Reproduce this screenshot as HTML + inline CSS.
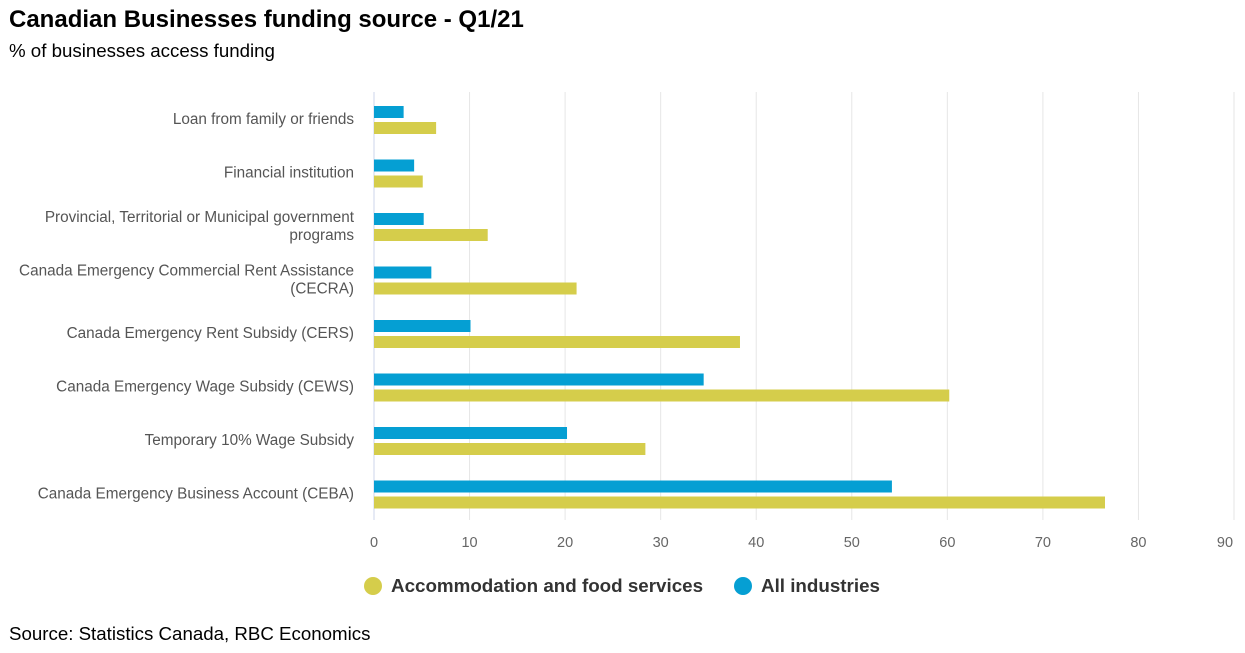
<!DOCTYPE html>
<html><head><meta charset="utf-8"><style>
body{margin:0;background:#fff;font-family:"Liberation Sans",sans-serif;}
#wrap{position:relative;width:1245px;height:653px;overflow:hidden;}
</style></head><body>
<div id="wrap">
<svg id="chart" width="1245" height="653">
<text x="9" y="27" font-size="24" font-weight="bold" fill="#000">Canadian Businesses funding source - Q1/21</text>
<text x="9" y="57" font-size="18.7" fill="#000">% of businesses access funding</text>
<text x="9" y="640" font-size="18.7" fill="#000">Source: Statistics Canada, RBC Economics</text>
<g id="grid"></g><g id="bars"></g><g id="labels"></g>
<g>
<g><circle cx="373" cy="586" r="9" fill="#d5cd4b"/><text x="391" y="592" font-size="18.8" font-weight="bold" fill="#333">Accommodation and food services</text></g>
<g><circle cx="743" cy="586" r="9" fill="#059fd3"/><text x="761" y="592" font-size="18.8" font-weight="bold" fill="#333">All industries</text></g>
</g>
</svg>
</div>
<script>
const categories=[["Loan from family or friends"],["Financial institution"],["Provincial, Territorial or Municipal government","programs"],["Canada Emergency Commercial Rent Assistance","(CECRA)"],["Canada Emergency Rent Subsidy (CERS)"],["Canada Emergency Wage Subsidy (CEWS)"],["Temporary 10% Wage Subsidy"],["Canada Emergency Business Account (CEBA)"]];
const allIndustries=[3.1,4.2,5.2,6.0,10.1,34.5,20.2,54.2];
const accommodation=[6.5,5.1,11.9,21.2,38.3,60.2,28.4,76.5];
const ticks=[0,10,20,30,40,50,60,70,80,90];
const NS="http://www.w3.org/2000/svg";
const x0=374,x1=1234,yTop=92,yBottom=520;
const xs=v=>x0+v/90*(x1-x0);
const rowH=(yBottom-yTop)/categories.length;
function mk(tag,attrs,parent){const e=document.createElementNS(NS,tag);for(const k in attrs)e.setAttribute(k,attrs[k]);document.getElementById(parent).appendChild(e);return e;}
ticks.forEach(t=>{
 const l=mk('line',{x1:xs(t),x2:xs(t),y1:yTop,y2:yBottom,stroke:t===0?'#ccd6eb':'#e6e6e6','stroke-width':1},'grid');
 
 
 const tx=mk('text',{x:t===90?xs(t)-9:xs(t),y:547,'text-anchor':'middle','font-size':14.5,fill:'#666'},'labels');
 tx.textContent=t;
 
 
});
categories.forEach((c,i)=>{
 const y=yTop+i*rowH;
 const b=mk('rect',{x:x0,y:y+14,width:xs(allIndustries[i])-x0,height:12,fill:'#059fd3'},'bars');
 
 
 const a=mk('rect',{x:x0,y:y+30,width:xs(accommodation[i])-x0,height:12,fill:'#d5cd4b'},'bars');
 
 
 const cy=y+rowH/2;
 c.forEach((line,j)=>{
  const t=mk('text',{x:354,y:cy+5+(j-(c.length-1)/2)*18,'text-anchor':'end','font-size':15.3,fill:'#555'},'labels');
  t.textContent=line;
  
  
 });
});
</script>
</body></html>
